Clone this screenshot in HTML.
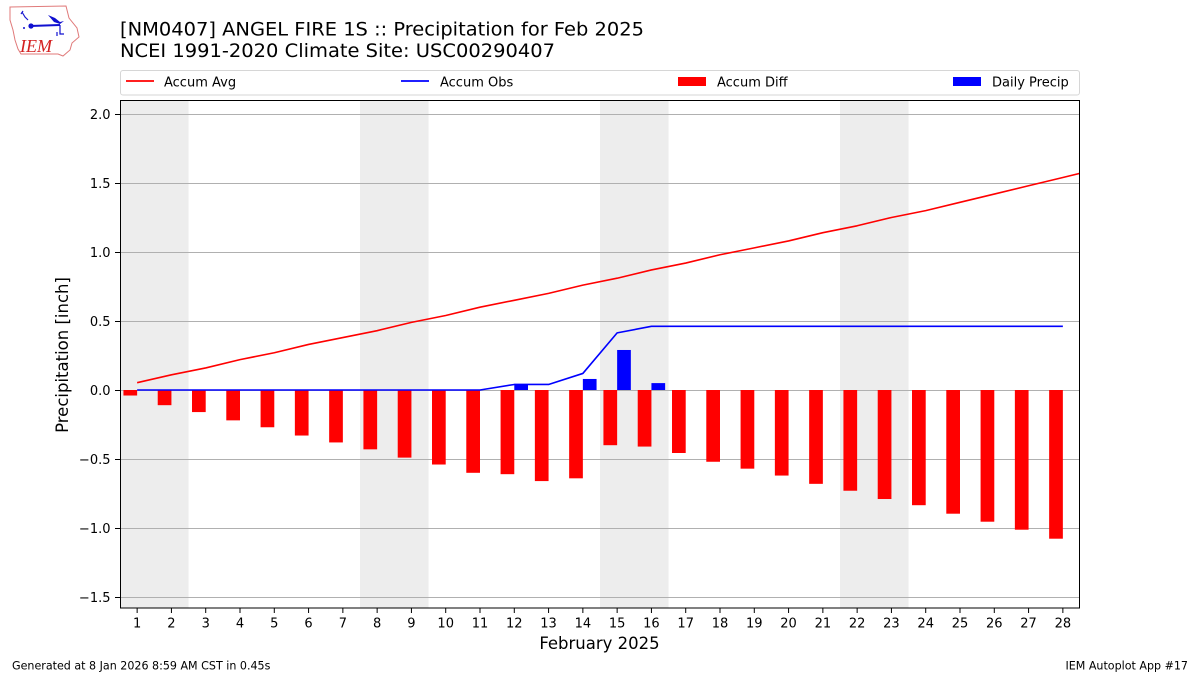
<!DOCTYPE html>
<html><head><meta charset="utf-8"><style>
html,body{margin:0;padding:0;background:#fff;}
svg{display:block;font-family:"DejaVu Sans","Liberation Sans",sans-serif;}
</style></head><body>
<svg width="1200" height="675" viewBox="0 0 1200 675" xmlns="http://www.w3.org/2000/svg">
<rect width="1200" height="675" fill="#fff"/>
<!-- logo -->
<g>
<path d="M10,7 L66,6 L69,18 L77,28 L79,37 L72,43 L70,50 L63,56 L58,54 L21,54 L18,49 L15,40 L13,30 L10,20 Z" fill="none" stroke="#e07a7a" stroke-width="1"/>
<path d="M22,12 L25,17 L28,20 M23,11 L21,14" stroke="#1a1ad0" stroke-width="1.2" fill="none"/>
<line x1="30" y1="26" x2="60" y2="25" stroke="#1010d0" stroke-width="2"/>
<circle cx="31" cy="26" r="2.6" fill="#1010d0"/>
<path d="M48,15 L55,18 L60,22 L64,21 L60,24 L54,22 Z" fill="#1010d0"/>
<path d="M60,25 L60,34 L64,34 M57,32 L57,36" stroke="#1010d0" stroke-width="1.2" fill="none"/>
<circle cx="24" cy="28" r="1" fill="#1010d0"/>
<text x="20" y="52" font-family="Liberation Serif,serif" font-style="italic" font-size="18" fill="#d42020">IEM</text>
</g>
<!-- titles -->
<text x="120" y="35.5" font-size="19" fill="#000" textLength="524" lengthAdjust="spacingAndGlyphs">[NM0407] ANGEL FIRE 1S :: Precipitation for Feb 2025</text>
<text x="120" y="57" font-size="19" fill="#000" textLength="435" lengthAdjust="spacingAndGlyphs">NCEI 1991-2020 Climate Site: USC00290407</text>
<!-- legend -->
<rect x="120.5" y="70.5" width="959" height="24.5" rx="2.5" fill="#fff" stroke="#d6d6d6" stroke-width="1"/>
<line x1="126" y1="81" x2="154" y2="81" stroke="#ff0000" stroke-width="1.8"/>
<text x="164" y="86.3" font-size="13" fill="#000">Accum Avg</text>
<line x1="401" y1="81" x2="429" y2="81" stroke="#0000ff" stroke-width="1.8"/>
<text x="440" y="86.3" font-size="13" fill="#000">Accum Obs</text>
<rect x="678" y="77" width="28" height="9" fill="#ff0000"/>
<text x="717" y="86.3" font-size="13" fill="#000">Accum Diff</text>
<rect x="953" y="77" width="28" height="9" fill="#0000ff"/>
<text x="992" y="86.3" font-size="13" fill="#000">Daily Precip</text>
<!-- axes background shading -->
<g fill="#ededed">
<rect x="120" y="100" width="68.57" height="508"/>
<rect x="360" y="100" width="68.57" height="508"/>
<rect x="600" y="100" width="68.57" height="508"/>
<rect x="840" y="100" width="68.57" height="508"/>
</g>
<!-- grid -->
<g stroke="#b0b0b0" stroke-width="1">
<line x1="120" y1="114.5" x2="1080" y2="114.5"/>
<line x1="120" y1="183.5" x2="1080" y2="183.5"/>
<line x1="120" y1="252.5" x2="1080" y2="252.5"/>
<line x1="120" y1="321.5" x2="1080" y2="321.5"/>
<line x1="120" y1="390.5" x2="1080" y2="390.5"/>
<line x1="120" y1="459.5" x2="1080" y2="459.5"/>
<line x1="120" y1="528.5" x2="1080" y2="528.5"/>
<line x1="120" y1="597.5" x2="1080" y2="597.5"/>
</g>
<!-- diff bars -->
<g fill="#ff0000">
<rect x="123.43" y="390" width="13.71" height="5.52"/>
<rect x="157.72" y="390" width="13.71" height="15.18"/>
<rect x="192.00" y="390" width="13.71" height="22.08"/>
<rect x="226.29" y="390" width="13.71" height="30.36"/>
<rect x="260.58" y="390" width="13.71" height="37.26"/>
<rect x="294.86" y="390" width="13.71" height="45.54"/>
<rect x="329.15" y="390" width="13.71" height="52.44"/>
<rect x="363.43" y="390" width="13.71" height="59.34"/>
<rect x="397.72" y="390" width="13.71" height="67.62"/>
<rect x="432.00" y="390" width="13.71" height="74.52"/>
<rect x="466.29" y="390" width="13.71" height="82.80"/>
<rect x="500.58" y="390" width="13.71" height="84.18"/>
<rect x="534.86" y="390" width="13.71" height="91.08"/>
<rect x="569.15" y="390" width="13.71" height="88.32"/>
<rect x="603.43" y="390" width="13.71" height="55.20"/>
<rect x="637.72" y="390" width="13.71" height="56.58"/>
<rect x="672.00" y="390" width="13.71" height="63.00"/>
<rect x="706.29" y="390" width="13.71" height="71.76"/>
<rect x="740.58" y="390" width="13.71" height="78.66"/>
<rect x="774.86" y="390" width="13.71" height="85.56"/>
<rect x="809.15" y="390" width="13.71" height="93.84"/>
<rect x="843.43" y="390" width="13.71" height="100.74"/>
<rect x="877.72" y="390" width="13.71" height="109.02"/>
<rect x="912.00" y="390" width="13.71" height="115.20"/>
<rect x="946.29" y="390" width="13.71" height="123.70"/>
<rect x="980.58" y="390" width="13.71" height="131.70"/>
<rect x="1014.86" y="390" width="13.71" height="139.70"/>
<rect x="1049.15" y="390" width="13.71" height="148.70"/>
</g>
<!-- daily precip bars -->
<g fill="#0000ff">
<rect x="514.29" y="384.48" width="13.71" height="5.52"/>
<rect x="582.86" y="378.96" width="13.71" height="11.04"/>
<rect x="617.14" y="349.98" width="13.71" height="40.02"/>
<rect x="651.43" y="383.10" width="13.71" height="6.90"/>
</g>
<!-- lines -->
<svg x="120" y="100" width="960" height="508" viewBox="120 100 960 508" overflow="hidden">
<polyline fill="none" stroke="#ff0000" stroke-width="1.6" stroke-linejoin="round" points="137.14,382.7 171.43,374.82 205.71,367.92 240,359.64 274.29,352.74 308.57,344.46 342.86,337.56 377.14,330.66 411.43,322.38 445.71,315.48 480,307.2 514.29,300.3 548.57,293.4 582.86,285.12 617.14,278.22 651.43,269.94 685.71,263.04 720,254.76 754.29,247.86 788.57,240.96 822.86,232.68 857.14,225.78 891.43,217.5 925.71,210.6 960,202.32 994.29,194.04 1028.57,185.76 1062.86,177.48 1097.14,169.2"/>
<polyline fill="none" stroke="#0000ff" stroke-width="1.6" stroke-linejoin="round" points="137.14,390 171.43,390 205.71,390 240,390 274.29,390 308.57,390 342.86,390 377.14,390 411.43,390 445.71,390 480,390 514.29,384.48 548.57,384.48 582.86,373.44 617.14,332.9 651.43,326.3 685.71,326.3 720,326.3 754.29,326.3 788.57,326.3 822.86,326.3 857.14,326.3 891.43,326.3 925.71,326.3 960,326.3 994.29,326.3 1028.57,326.3 1062.86,326.3"/>
</svg>
<!-- frame -->
<rect x="120.5" y="100.5" width="959" height="507.5" fill="none" stroke="#000" stroke-width="1"/>
<!-- y ticks -->
<g stroke="#000" stroke-width="1">
<line x1="115" y1="114.5" x2="120" y2="114.5"/>
<line x1="115" y1="183.5" x2="120" y2="183.5"/>
<line x1="115" y1="252.5" x2="120" y2="252.5"/>
<line x1="115" y1="321.5" x2="120" y2="321.5"/>
<line x1="115" y1="390.5" x2="120" y2="390.5"/>
<line x1="115" y1="459.5" x2="120" y2="459.5"/>
<line x1="115" y1="528.5" x2="120" y2="528.5"/>
<line x1="115" y1="597.5" x2="120" y2="597.5"/>
</g>
<g font-size="13" fill="#000" text-anchor="end">
<text x="110.5" y="118.8">2.0</text>
<text x="110.5" y="187.8">1.5</text>
<text x="110.5" y="256.8">1.0</text>
<text x="110.5" y="325.8">0.5</text>
<text x="110.5" y="394.8">0.0</text>
<text x="110.5" y="463.8">−0.5</text>
<text x="110.5" y="532.8">−1.0</text>
<text x="110.5" y="601.8">−1.5</text>
</g>
<!-- x ticks -->
<g stroke="#000" stroke-width="1">
<line x1="137.14" y1="608" x2="137.14" y2="613"/><line x1="171.43" y1="608" x2="171.43" y2="613"/><line x1="205.71" y1="608" x2="205.71" y2="613"/><line x1="240" y1="608" x2="240" y2="613"/><line x1="274.29" y1="608" x2="274.29" y2="613"/><line x1="308.57" y1="608" x2="308.57" y2="613"/><line x1="342.86" y1="608" x2="342.86" y2="613"/><line x1="377.14" y1="608" x2="377.14" y2="613"/><line x1="411.43" y1="608" x2="411.43" y2="613"/><line x1="445.71" y1="608" x2="445.71" y2="613"/><line x1="480" y1="608" x2="480" y2="613"/><line x1="514.29" y1="608" x2="514.29" y2="613"/><line x1="548.57" y1="608" x2="548.57" y2="613"/><line x1="582.86" y1="608" x2="582.86" y2="613"/><line x1="617.14" y1="608" x2="617.14" y2="613"/><line x1="651.43" y1="608" x2="651.43" y2="613"/><line x1="685.71" y1="608" x2="685.71" y2="613"/><line x1="720" y1="608" x2="720" y2="613"/><line x1="754.29" y1="608" x2="754.29" y2="613"/><line x1="788.57" y1="608" x2="788.57" y2="613"/><line x1="822.86" y1="608" x2="822.86" y2="613"/><line x1="857.14" y1="608" x2="857.14" y2="613"/><line x1="891.43" y1="608" x2="891.43" y2="613"/><line x1="925.71" y1="608" x2="925.71" y2="613"/><line x1="960" y1="608" x2="960" y2="613"/><line x1="994.29" y1="608" x2="994.29" y2="613"/><line x1="1028.57" y1="608" x2="1028.57" y2="613"/><line x1="1062.86" y1="608" x2="1062.86" y2="613"/>
</g>
<g font-size="13" fill="#000" text-anchor="middle">
<text x="137.14" y="627.5">1</text><text x="171.43" y="627.5">2</text><text x="205.71" y="627.5">3</text><text x="240" y="627.5">4</text><text x="274.29" y="627.5">5</text><text x="308.57" y="627.5">6</text><text x="342.86" y="627.5">7</text><text x="377.14" y="627.5">8</text><text x="411.43" y="627.5">9</text><text x="445.71" y="627.5">10</text><text x="480" y="627.5">11</text><text x="514.29" y="627.5">12</text><text x="548.57" y="627.5">13</text><text x="582.86" y="627.5">14</text><text x="617.14" y="627.5">15</text><text x="651.43" y="627.5">16</text><text x="685.71" y="627.5">17</text><text x="720" y="627.5">18</text><text x="754.29" y="627.5">19</text><text x="788.57" y="627.5">20</text><text x="822.86" y="627.5">21</text><text x="857.14" y="627.5">22</text><text x="891.43" y="627.5">23</text><text x="925.71" y="627.5">24</text><text x="960" y="627.5">25</text><text x="994.29" y="627.5">26</text><text x="1028.57" y="627.5">27</text><text x="1062.86" y="627.5">28</text>
</g>
<!-- axis labels -->
<text x="599.5" y="649" font-size="16.5" fill="#000" text-anchor="middle">February 2025</text>
<text transform="translate(68,355) rotate(-90)" font-size="16.5" fill="#000" text-anchor="middle">Precipitation [inch]</text>
<!-- footer -->
<text x="12" y="669.5" font-size="11.1" fill="#000">Generated at 8 Jan 2026 8:59 AM CST in 0.45s</text>
<text x="1188" y="669.5" font-size="11.1" fill="#000" text-anchor="end">IEM Autoplot App #17</text>
</svg>
</body></html>
